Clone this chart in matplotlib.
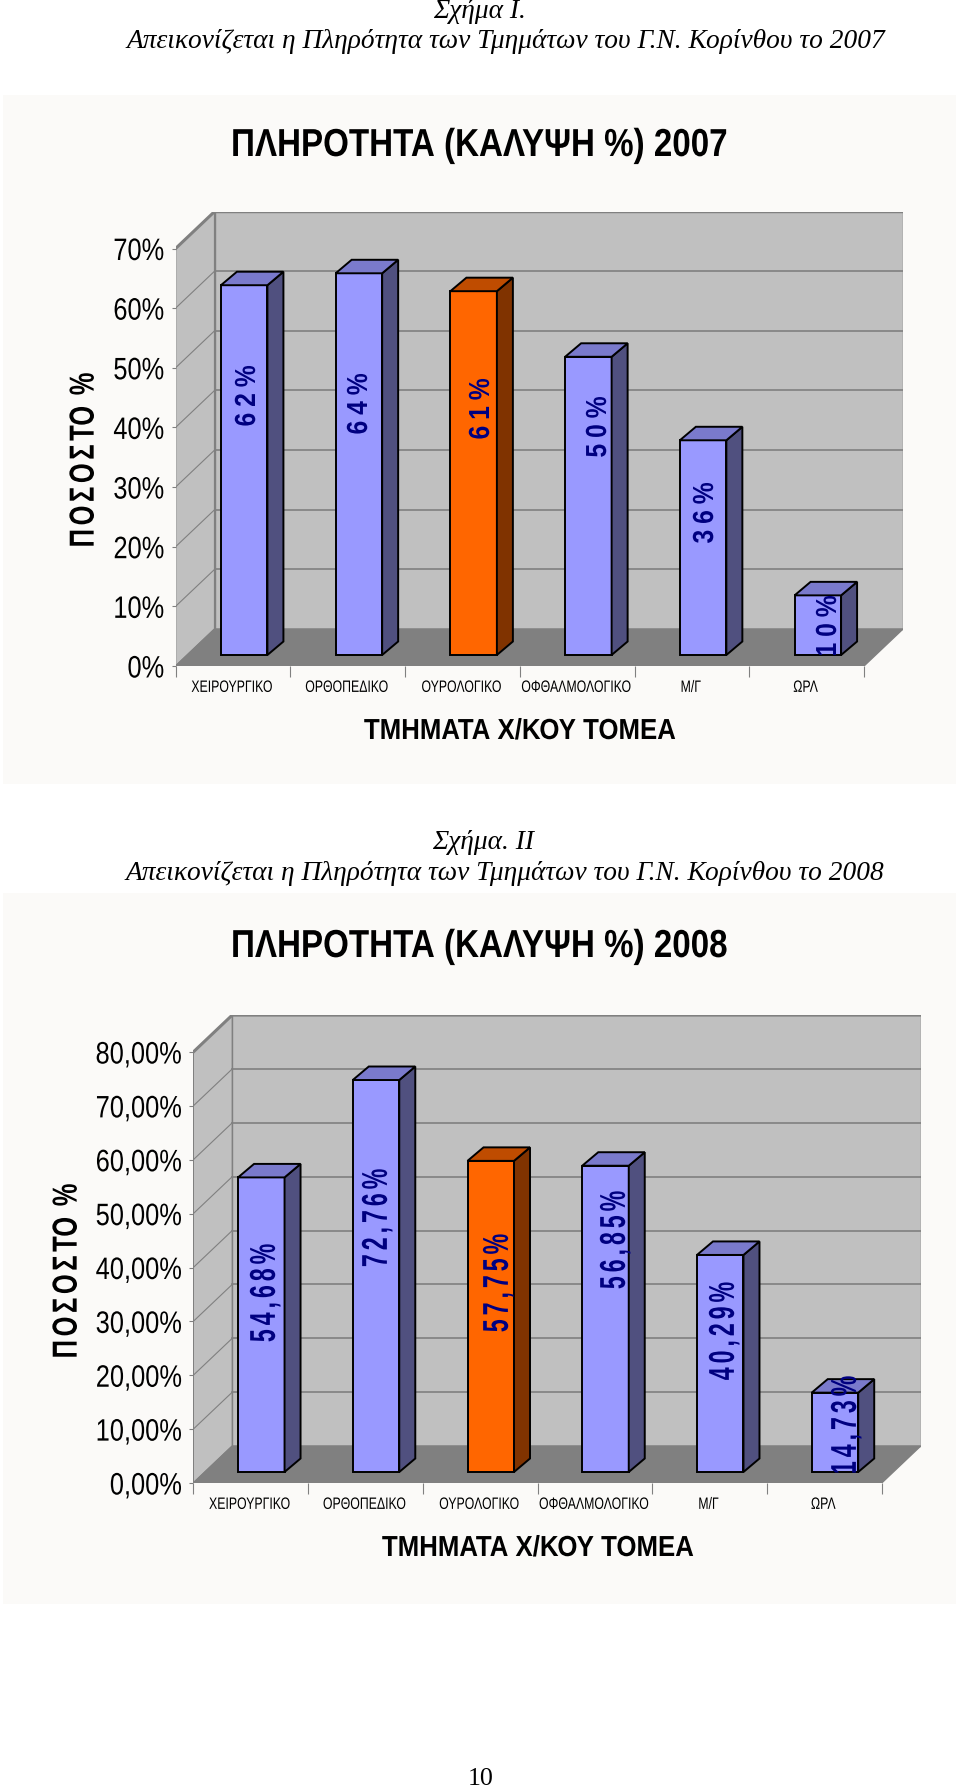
#!/usr/bin/env python3
"""Πληρότητα τμημάτων: two pseudo-3D bar charts on one page."""

import matplotlib
matplotlib.use('Agg')
import matplotlib.pyplot as plt
import numpy as np
from matplotlib.patches import Polygon, Rectangle
from matplotlib.path import Path
from matplotlib.patheffects import AbstractPathEffect
from matplotlib.transforms import Affine2D, Bbox, TransformedBbox

W, H = 960, 1790

categories = ['ΧΕΙΡΟΥΡΓΙΚΟ', 'ΟΡΘΟΠΕΔΙΚΟ', 'ΟΥΡΟΛΟΓΙΚΟ', 'ΟΦΘΑΛΜΟΛΟΓΙΚΟ', 'Μ/Γ', 'ΩΡΛ']
values_2007 = [62, 64, 61, 50, 36, 10]
values_2008 = [54.68, 72.76, 57.75, 56.85, 40.29, 14.73]
labels_2007 = ['62%', '64%', '61%', '50%', '36%', '10%']
labels_2008 = ['54,68%', '72,76%', '57,75%', '56,85%', '40,29%', '14,73%']
ticks_2007 = [0, 10, 20, 30, 40, 50, 60, 70]
ticks_2008 = [0, 10, 20, 30, 40, 50, 60, 70, 80]
ticklabels_2007 = ['0%', '10%', '20%', '30%', '40%', '50%', '60%', '70%']
ticklabels_2008 = ['0,00%', '10,00%', '20,00%', '30,00%', '40,00%',
                   '50,00%', '60,00%', '70,00%', '80,00%']
highlight = 2  # orange bar

# label centres on the page, in pixels
label_xy_2007 = [(247, 397), (359, 405), (481, 410), (598, 428), (705, 514), (828, 627)]
label_xy_2008 = [(265, 1294), (377, 1219), (498, 1284), (615, 1241), (724, 1332), (846, 1426)]

SANS = ['Liberation Sans']
SERIF = ['Liberation Serif']
PANEL = '#FBFAF8'
WALL = '#C0C0C0'
FLOOR = '#808080'
GRID = '#808080'
EM = 100  # text paths come in units of 1/100 em


def spread_glyphs(tpath, track):
    """Move the glyphs of a text path apart by track (in em) per gap, keeping it centred."""
    starts = np.flatnonzero(tpath.codes == Path.MOVETO)
    ends = np.append(starts[1:], len(tpath.codes))
    order = sorted(zip(starts, ends), key=lambda c: tpath.vertices[c[0]:c[1], 0].min())
    verts = tpath.vertices.copy()
    gap, reach = -1, -np.inf
    for s, e in order:
        if tpath.vertices[s:e, 0].min() > reach:
            gap += 1
        reach = max(reach, tpath.vertices[s:e, 0].max())
        verts[s:e, 0] += gap * track * EM
    verts[:, 0] -= gap * track * EM / 2
    return Path(verts, tpath.codes)


class Squeeze(AbstractPathEffect):
    """The source page is stretched, so its text is condensed: scale the glyphs."""

    def __init__(self, sx, sy, anchor='center', track=0.0):
        super().__init__()
        self.sx, self.sy, self.anchor, self.track = sx, sy, anchor, track

    def draw_path(self, renderer, gc, tpath, affine, rgbFace=None):
        box = affine.transform_path(tpath).get_extents()
        px = box.x1 if self.anchor == 'right' else (box.x0 + box.x1) / 2
        py = (box.y0 + box.y1) / 2
        if self.track:
            tpath = spread_glyphs(tpath, self.track)
        t = affine + Affine2D().translate(-px, -py).scale(self.sx, self.sy).translate(px, py)
        renderer.draw_path(gc, tpath, t, rgbFace)


def squeeze(text, sx=1.0, sy=1.0, anchor='center', track=0.0):
    """Apply Squeeze to a text and make its reported extent follow."""
    text.set_path_effects([Squeeze(sx, sy, anchor, track)])
    plain = text.get_window_extent
    extra = (len(text.get_text()) - 1) * track * text.get_fontsize() * 100 / 72 * sy / 2

    def extent(renderer=None, dpi=None):
        b = plain(renderer, dpi)
        px = b.x1 if anchor == 'right' else (b.x0 + b.x1) / 2
        py = (b.y0 + b.y1) / 2
        return Bbox([[px + (b.x0 - px) * sx, py + (b.y0 - py) * sy - extra],
                     [px + (b.x1 - px) * sx, py + (b.y1 - py) * sy + extra]])

    text.get_window_extent = extent
    return text


def pt(px):
    return px * 72 / 100


def fx(x):
    return x / W


def fy(y):
    return 1 - y / H


def draw_chart(fig, x0, x1, y_top, y_zero, depth_x, depth_y, ticks, ticklabels,
               values, labels, label_xy, bar_off, label_sx, label_sy, label_track):
    """x0,x1: front floor edge, y_top: pixel of highest tick, y_zero: pixel of 0."""
    cat_w = (x1 - x0) / len(categories)
    unit = (y_zero - y_top) / ticks[-1]
    d = depth_x / cat_w
    e = depth_y / unit
    ax = fig.add_axes([fx(x0), fy(y_zero), (x1 + depth_x - x0) / W,
                       (y_zero - y_top + depth_y) / H])
    ax.set_xlim(0, len(categories) + d)
    ax.set_ylim(0, ticks[-1] + e)
    ax.patch.set_alpha(0)
    for s in ax.spines.values():
        s.set_visible(False)

    n = len(categories)
    top = ticks[-1]
    # walls and floor
    ax.add_patch(Polygon([(d, e), (n + d, e), (n + d, top + e), (d, top + e)],
                         fc=WALL, ec=GRID, lw=1))
    ax.add_patch(Polygon([(0, 0), (d, e), (d, top + e), (0, top)], fc=WALL, ec=GRID, lw=1))
    ax.add_patch(Polygon([(0, 0), (n, 0), (n + d, e), (d, e)], fc=FLOOR, ec=GRID, lw=1))
    for v in ticks[1:-1]:
        ax.plot([d, n + d], [v + e, v + e], color=GRID, lw=1.2)
        ax.plot([0, d], [v, v + e], color=GRID, lw=0.8)
    ax.plot([0, d, n + d], [top, top + e, top + e], color=GRID, lw=2.2)

    # bars
    bar_w = 46.5 / cat_w
    side_x = 16 / cat_w
    side_y = 13.5 / unit
    base = 11 / unit
    for i, v in enumerate(values):
        left = i + bar_off
        right = left + bar_w
        up = base + v
        colors = ('#FF6600', '#803300', '#BF4C00') if i == highlight else ('#9999FF', '#50507F', '#7A7ACC')
        ax.add_patch(Polygon([(left, base), (right, base), (right, up), (left, up)],
                             fc=colors[0], ec='black', lw=1.4, zorder=5))
        ax.add_patch(Polygon([(right, base), (right + side_x, base + side_y),
                              (right + side_x, up + side_y), (right, up)],
                             fc=colors[1], ec='black', lw=1.4, zorder=5))
        ax.add_patch(Polygon([(left, up), (right, up), (right + side_x, up + side_y),
                              (left + side_x, up + side_y)],
                             fc=colors[2], ec='black', lw=1.4, zorder=5))

    # axes ticks
    ax.set_yticks(ticks, ticklabels, fontfamily=SANS, fontsize=pt(31))
    ax.tick_params(axis='y', length=3, width=0.8, color=GRID, pad=5)
    ax.set_xticks(range(n + 1), [''] * (n + 1))
    ax.tick_params(axis='x', which='major', length=8, width=0.8, color=GRID)
    ax.set_xticks([i + 0.49 for i in range(n)], categories, minor=True,
                  fontfamily=SANS, fontsize=pt(16.5))
    ax.tick_params(axis='x', which='minor', length=0, pad=10)
    for t in ax.yaxis.get_ticklabels():
        squeeze(t, sx=0.82, anchor='right')
    for t in ax.xaxis.get_ticklabels(minor=True):
        squeeze(t, sx=0.745)

    # value labels
    for txt, (lx, ly) in zip(labels, label_xy):
        t = fig.text(fx(lx), fy(ly), txt, rotation=90, ha='center', va='center',
                     color='#000080', fontweight='bold', fontfamily=SANS, fontsize=pt(29),
                     zorder=10)
        squeeze(t, sx=label_sx, sy=label_sy, track=label_track)
        if txt == '10%':
            # the label runs off the foot of the bar in the original
            box = Bbox([[0, fy(y_zero - 11)], [1, 1]])
            t.set_clip_box(TransformedBbox(box, fig.transFigure))
            t.set_clip_on(True)
    return ax


def main():
    fig = plt.figure(figsize=(W / 100, H / 100), dpi=100, facecolor='white')

    for top, bottom in [(96, 785), (894, 1605)]:
        fig.add_artist(Rectangle((fx(3), fy(bottom)), 953 / W, (bottom - top) / H,
                                 transform=fig.transFigure, fc=PANEL, ec='none', zorder=-1))

    draw_chart(fig, 175.6, 864, 249.5, 667, 39, 37, ticks_2007, ticklabels_2007,
               values_2007, labels_2007, label_xy_2007, 0.395, 1.0, 0.85, 0.24)
    draw_chart(fig, 193.3, 881.7, 1053, 1484, 39, 37, ticks_2008, ticklabels_2008,
               values_2008, labels_2008, label_xy_2008, 0.39, 1.24, 0.8, 0.17)

    # captions
    cap = dict(ha='center', va='center', fontfamily=SERIF, style='italic', fontsize=pt(27.4))
    fig.text(fx(479), fy(12), 'Σχήμα Ι.', **cap)
    fig.text(fx(505.5), fy(42), 'Απεικονίζεται η Πληρότητα των Τμημάτων του Γ.Ν. Κορίνθου το 2007', **cap)
    fig.text(fx(483), fy(843), 'Σχήμα. ΙΙ', **cap)
    fig.text(fx(505), fy(873), 'Απεικονίζεται η Πληρότητα των Τμημάτων του Γ.Ν. Κορίνθου το 2008', **cap)
    fig.text(fx(481), fy(1779), '10', ha='center', va='center', fontfamily=SERIF, fontsize=pt(26))

    # titles and axis names
    head = dict(ha='center', va='center', fontfamily=SANS, fontweight='bold')
    squeeze(fig.text(fx(479), fy(147), 'ΠΛΗΡΟΤΗΤΑ (ΚΑΛΥΨΗ %) 2007', fontsize=pt(39), **head), sx=0.85)
    squeeze(fig.text(fx(479), fy(948), 'ΠΛΗΡΟΤΗΤΑ (ΚΑΛΥΨΗ %) 2008', fontsize=pt(39), **head), sx=0.85)
    squeeze(fig.text(fx(520.5), fy(732), 'ΤΜΗΜΑΤΑ Χ/ΚΟΥ ΤΟΜΕΑ', fontsize=pt(29), **head), sx=0.89)
    squeeze(fig.text(fx(538.5), fy(1549), 'ΤΜΗΜΑΤΑ Χ/ΚΟΥ ΤΟΜΕΑ', fontsize=pt(29), **head), sx=0.89)
    side = dict(ha='center', va='center', rotation=90, fontfamily=SANS, fontweight='bold', fontsize=pt(30))
    squeeze(fig.text(fx(84), fy(461), 'ΠΟΣΟΣΤΟ %', **side), sx=1.16, sy=0.85, track=0.14)
    squeeze(fig.text(fx(67), fy(1272), 'ΠΟΣΟΣΤΟ %', **side), sx=1.16, sy=0.85, track=0.14)

    fig.savefig('out.png', dpi=100, facecolor='white')


if __name__ == "__main__":
    main()
